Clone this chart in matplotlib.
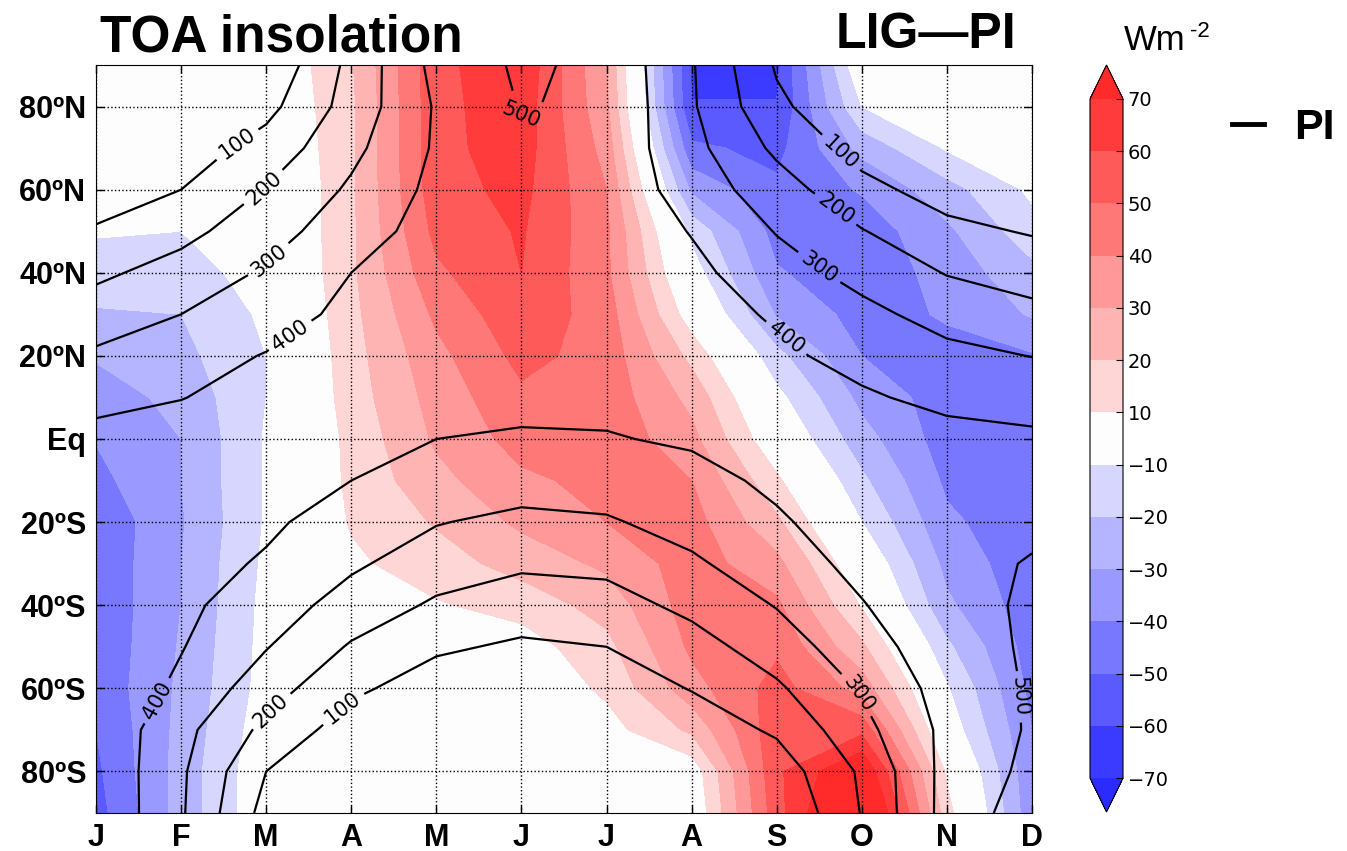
import numpy as np
import matplotlib.pyplot as plt
from matplotlib.colors import ListedColormap, BoundaryNorm
from matplotlib.lines import Line2D

# ---- data ----
months = ['J', 'F', 'M', 'A', 'M', 'J', 'J', 'A', 'S', 'O', 'N', 'D']
lats = [90, 80, 70, 60, 50, 40, 30, 20, 10, 0,
        -10, -20, -30, -40, -50, -60, -70, -80, -90]
lat_ticks = [80, 60, 40, 20, 0, -20, -40, -60, -80]
lat_labels = ['80ºN', '60ºN', '40ºN', '20ºN', 'Eq',
              '20ºS', '40ºS', '60ºS', '80ºS']

# pre-industrial TOA insolation (W m-2), rows = lats, cols = months
pi_insolation = [
    [0, 0, 19, 227, 430, 516, 477, 309, 89, 0, 0, 0],
    [0, 5, 70, 240, 410, 505, 483, 312, 120, 15, 0, 0],
    [3, 45, 140, 275, 412, 480, 470, 330, 180, 65, 10, 0],
    [50, 100, 205, 315, 425, 470, 470, 355, 245, 128, 60, 30],
    [110, 170, 260, 355, 440, 475, 475, 395, 295, 205, 125, 92],
    [180, 240, 312, 400, 450, 475, 475, 425, 340, 270, 195, 160],
    [250, 300, 355, 425, 455, 465, 465, 435, 390, 325, 265, 225],
    [315, 360, 405, 440, 450, 450, 445, 440, 415, 375, 325, 298],
    [375, 398, 425, 440, 430, 425, 420, 430, 425, 410, 380, 365],
    [425, 430, 435, 430, 400, 390, 395, 410, 425, 430, 425, 415],
    [460, 445, 430, 400, 355, 345, 345, 375, 415, 440, 460, 455],
    [480, 445, 415, 360, 305, 275, 290, 335, 390, 440, 475, 485],
    [490, 435, 390, 315, 250, 215, 225, 285, 355, 425, 475, 505],
    [492, 420, 350, 260, 185, 150, 160, 225, 305, 395, 470, 512],
    [488, 405, 305, 190, 115, 85, 100, 160, 250, 360, 455, 513],
    [480, 380, 245, 120, 50, 25, 40, 105, 185, 310, 440, 510],
    [478, 330, 175, 50, 5, 0, 3, 40, 115, 270, 425, 511],
    [485, 315, 100, 5, 0, 0, 0, 5, 45, 215, 432, 523],
    [490, 312, 65, 0, 0, 0, 0, 0, 0, 205, 435, 553],
]

# LIG minus PI insolation anomaly (W m-2)
lig_minus_pi = [
    [0, 0, 0, 19, 57, 68, 30, -61.5, -61.5, 0, 0, 0],
    [0, 0, -1, 18, 57, 66, 32, -59.7, -59.7, -10, 0, 0],
    [-1, -1, -3, 18, 57, 65, 36, -48, -53, -27, -9, 0],
    [-4, -4, -5, 18, 56, 63, 40, -32, -48, -39, -24, -8],
    [-9, -10, -5, 18, 53, 61, 42, -13, -44, -46, -32, -14],
    [-15, -14, -6, 18, 48, 60, 42, -5, -39, -47, -36, -23],
    [-21, -20, -8, 17, 42, 57, 45, 4, -31, -44, -39, -29],
    [-29, -23, -10, 16, 37, 53, 46, 17, -17, -40, -43, -41],
    [-35, -27, -10, 15, 34, 48, 46, 27, -7, -33, -45, -44],
    [-39.5, -30, -9, 13, 31.5, 44, 47, 33, 1, -26, -45, -46],
    [-43, -30, -9, 12.5, 27, 38, 43, 40, 12, -18, -42, -47],
    [-48, -31, -9, 11, 21, 32, 40, 44, 22, -10, -38, -47],
    [-48, -30, -8, 8, 15.5, 24, 32, 45, 33, 0, -33, -47],
    [-48, -30, -7, 4, 9, 14, 24, 45, 42, 9, -28, -46],
    [-48, -29, -6.5, 2, 6, 5, 17, 42, 48, 22, -18, -45],
    [-47.5, -28, -6, 1, 3, 1, 12, 36, 54, 36, -9, -43],
    [-50, -27, -4, 0, 0.5, 0, 6, 22, 57, 57, -3, -40],
    [-52, -26, -2, 0, 0, 0, 2, 3, 58, 82, 8, -38],
    [-54, -26, -2, 0, 0, 0, 0, 0, 56, 95, 14, -37],
]

anom_levels = [-70, -60, -50, -40, -30, -20, -10, 10, 20, 30, 40, 50, 60, 70]
pi_levels = [100, 200, 300, 400, 500]

# ---- style ----
band_colors = ['#3b3bff', '#5a5aff', '#7878ff', '#9999ff', '#b4b4ff', '#d6d6ff',
               '#fdfdfd',
               '#ffd6d6', '#ffb4b4', '#ff9999', '#ff7878', '#ff5a5a', '#ff3b3b']
cmap = ListedColormap(band_colors)
cmap.set_under('#2b2bff')
cmap.set_over('#ff2b2b')
norm = BoundaryNorm(anom_levels, cmap.N)

# where the contour labels sit (month index, latitude)
label_spots = [(1.69, 70), (1.99, 60), (1.99, 44), (2.28, 25), (4.98, 77),
               (8.8, 70), (8.68, 55), (8.45, 40), (8.1, 24),
               (0.63, -62), (2.04, -65), (2.87, -64), (8.98, -61), (10.9, -62)]

bold = dict(family='Liberation Sans', weight='bold')

W, H = 1347, 851
fig = plt.figure(figsize=(W / 100, H / 100), dpi=100)
ax = fig.add_axes([96 / W, 1 - 813 / H, (1032 - 96) / W, (813 - 65) / H])
cax = fig.add_axes([1090 / W, 1 - 812 / H, 33 / W, (812 - 65) / H])

x = np.arange(len(months))
y = np.array(lats)
cf = ax.contourf(x, y, np.array(lig_minus_pi), levels=anom_levels,
                 cmap=cmap, norm=norm, extend='both')
cs = ax.contour(x, y, np.array(pi_insolation), levels=pi_levels,
                colors='k', linewidths=1.6)
ax.clabel(cs, fmt='%d', fontsize=15, inline=True, inline_spacing=6,
          manual=label_spots)

ax.set_xlim(0, 11)
ax.set_ylim(-90, 90)
ax.set_xticks(x)
ax.set_xticklabels(months, fontdict=dict(size=22, **bold))
ax.set_yticks(lat_ticks)
ax.set_yticklabels(lat_labels, fontdict=dict(size=22, **bold))
ax.tick_params(direction='in', top=True, right=True, length=6, width=1)
ax.tick_params(axis='y', pad=7)
ax.tick_params(axis='x', pad=7)
ax.grid(True, linestyle=':', color='k', linewidth=1)
ax.set_axisbelow(False)

cb = fig.colorbar(cf, cax=cax, ticks=anom_levels)
cb.ax.tick_params(labelsize=14, direction='in', length=5)

fig.text(100 / W, 1 - 52 / H, 'TOA insolation', fontsize=37, va='baseline', **bold)
fig.text(1016 / W, 1 - 48 / H, 'LIG\u2014PI', fontsize=36, ha='right',
         va='baseline', **bold)
fig.text(1124 / W, 1 - 50 / H, 'Wm', fontsize=25, va='baseline',
         family='Liberation Sans')
fig.text(1190 / W, 1 - 37 / H, '-2', fontsize=16, va='baseline',
         family='Liberation Sans')

fig.legend(handles=[Line2D([], [], color='k', lw=3.5)], labels=['PI'],
           loc='center', bbox_to_anchor=(1283 / W, 1 - 128 / H), frameon=False,
           prop=dict(size=31, **bold), handlelength=0.75, handletextpad=0.7)

fig.savefig('out.png', dpi=100)
